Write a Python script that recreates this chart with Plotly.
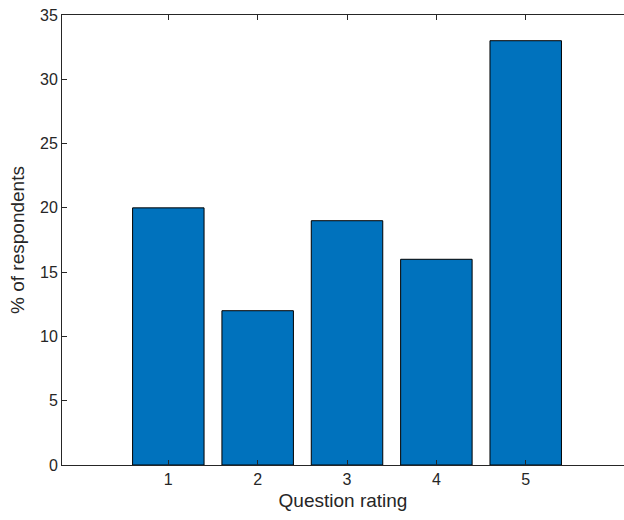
import plotly.graph_objects as go

# Survey results: share of respondents per rating
ratings = [1, 2, 3, 4, 5]
percent_respondents = [20, 12, 19, 16, 33]
rating_ticks = ["1", "2", "3", "4", "5"]
y_ticks = [0, 5, 10, 15, 20, 25, 30, 35]

axis_color = "#262626"
font_family = "Liberation Sans, Arial, sans-serif"

fig = go.Figure(
    go.Bar(
        x=ratings,
        y=percent_respondents,
        width=0.8,
        marker=dict(color="#0072BD", line=dict(color="#000000", width=1)),
        hoverinfo="x+y",
    )
)

fig.update_layout(
    width=624,
    height=520,
    margin=dict(l=62, r=0, t=15, b=55, autoexpand=False),
    paper_bgcolor="white",
    plot_bgcolor="white",
    showlegend=False,
    font=dict(family=font_family, color=axis_color),
)

fig.update_xaxes(
    range=[-0.19, 6.1],
    tickvals=ratings,
    ticktext=rating_ticks,
    ticks="inside",
    ticklen=5,
    tickcolor=axis_color,
    tickfont=dict(size=16, color=axis_color),
    showline=True,
    linecolor=axis_color,
    linewidth=1,
    mirror="ticks",
    showgrid=False,
    zeroline=False,
    title=dict(text="Question rating", font=dict(size=19, color=axis_color), standoff=6),
)

fig.update_yaxes(
    range=[0, 35],
    tickvals=y_ticks,
    ticks="inside",
    ticklen=5,
    tickcolor=axis_color,
    tickfont=dict(size=16, color=axis_color),
    showline=True,
    linecolor=axis_color,
    linewidth=1,
    mirror=False,
    showgrid=False,
    zeroline=False,
    title=dict(text="% of respondents", font=dict(size=19, color=axis_color), standoff=10),
)

fig.write_html("out.html")
